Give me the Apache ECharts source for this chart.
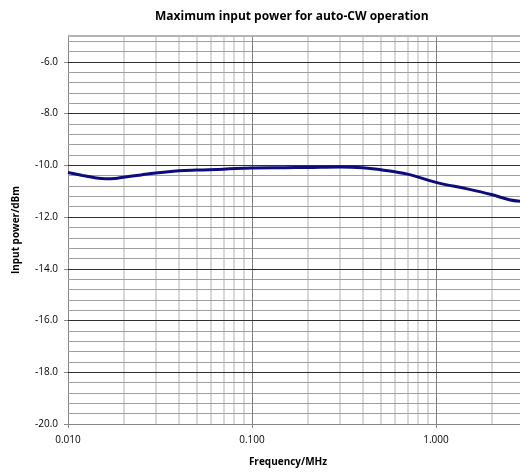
<!DOCTYPE html>
<html>
<head>
<meta charset="utf-8">
<script src="https://cdn.jsdelivr.net/npm/echarts@6/dist/echarts.min.js"></script>
<style>html,body{margin:0;padding:0;background:#fff}#c{width:520px;height:472px}</style>
</head>
<body>
<div id="c"></div>
<script>
// ---- data ----
var freqMHz = [0.010, 0.012, 0.014, 0.016, 0.018, 0.020, 0.025, 0.030, 0.040, 0.050, 0.070, 0.100, 0.150, 0.200, 0.300, 0.400, 0.500, 0.700, 1.000, 1.500, 2.000, 2.500, 2.860];
var inputPower = [-10.28, -10.39, -10.48, -10.52, -10.51, -10.46, -10.37, -10.30, -10.21, -10.18, -10.15, -10.10, -10.09, -10.08, -10.06, -10.09, -10.17, -10.34, -10.66, -10.92, -11.13, -11.33, -11.39];
var yTickValues = [-20, -18, -16, -14, -12, -10, -8, -6];
var yMinorValues = [-19.6, -19.2, -18.8, -18.4, -17.6, -17.2, -16.8, -16.4, -15.6, -15.2, -14.8, -14.4, -13.6, -13.2, -12.8, -12.4, -11.6, -11.2, -10.8, -10.4, -9.6, -9.2, -8.8, -8.4, -7.6, -7.2, -6.8, -6.4, -5.6, -5.2];
var xTickValues = [0.01, 0.1, 1];
var xMinorValues = [0.02, 0.03, 0.04, 0.05, 0.06, 0.07, 0.08, 0.09, 0.2, 0.3, 0.4, 0.5, 0.6, 0.7, 0.8, 0.9, 2];
var yMin = -20, yMax = -5, xMin = 0.01, xMax = 2.86;

var FONT = 'Open Sans';
var gridLines = [];
xMinorValues.forEach(function (v) { gridLines.push({ xAxis: v, lineStyle: { color: '#d8d8d8', width: 2, type: 'solid' } }); });
yMinorValues.forEach(function (v) { gridLines.push({ yAxis: v, lineStyle: { color: '#a0a0a0', width: 1, type: 'solid' } }); });
xTickValues.slice(1).forEach(function (v) { gridLines.push({ xAxis: v, lineStyle: { color: '#7f7f7f', width: 1, type: 'solid' } }); });
yTickValues.slice(1).forEach(function (v) { gridLines.push({ yAxis: v, lineStyle: { color: '#303030', width: 1, type: 'solid' } }); });
gridLines.push({ yAxis: yMax, lineStyle: { color: '#b4b4b4', width: 2, type: 'solid' } });

var chart = echarts.init(document.getElementById('c'), null, { renderer: 'canvas' });
chart.setOption({
  animation: false,
  title: {
    text: 'Maximum input power for auto-CW operation',
    left: 150, top: 6,
    textStyle: { fontFamily: FONT, fontWeight: 'bold', fontSize: 12, color: '#000' }
  },
  grid: { left: 68, right: 0, top: 36, bottom: 48 },
  xAxis: {
    type: 'log', logBase: 10, min: xMin, max: xMax,
    name: 'Frequency/MHz', nameLocation: 'middle', nameGap: 33,
    nameTextStyle: { fontFamily: FONT, fontWeight: 'bold', fontSize: 10, color: '#000', padding: [0, 12, 0, 0] },
    axisLine: { show: true, lineStyle: { color: '#868686', width: 1 } },
    axisTick: { show: true, inside: false, length: 4, customValues: xTickValues, lineStyle: { color: '#868686' } },
    axisLabel: { customValues: xTickValues, fontFamily: FONT, fontSize: 10, color: '#000', margin: 11,
      formatter: function (v) { return Number(v).toFixed(3); } },
    splitLine: { show: false }, minorTick: { show: false }, minorSplitLine: { show: false }
  },
  yAxis: {
    type: 'value', min: yMin, max: yMax, interval: 2,
    name: 'Input power/dBm', nameLocation: 'middle', nameGap: 47, nameRotate: 90,
    nameTextStyle: { fontFamily: FONT, fontWeight: 'bold', fontSize: 10, color: '#000' },
    axisLine: { show: true, lineStyle: { color: '#868686', width: 1 } },
    axisTick: { show: true, inside: false, length: 4, customValues: yTickValues, lineStyle: { color: '#868686' } },
    axisLabel: { customValues: yTickValues, fontFamily: FONT, fontSize: 10, color: '#000', margin: 10,
      formatter: function (v) { return Number(v).toFixed(1); } },
    splitLine: { show: false }
  },
  series: [
    {
      type: 'line', data: [], z: 1, silent: true,
      markLine: { silent: true, symbol: 'none', label: { show: false }, animation: false, data: gridLines }
    },
    {
      type: 'line', z: 5, smooth: 0.4, showSymbol: false, symbol: 'none',
      data: freqMHz.map(function (f, i) { return [f, inputPower[i]]; }),
      lineStyle: { color: '#0c0c7c', width: 3 }
    }
  ]
});
</script>
</body>
</html>
